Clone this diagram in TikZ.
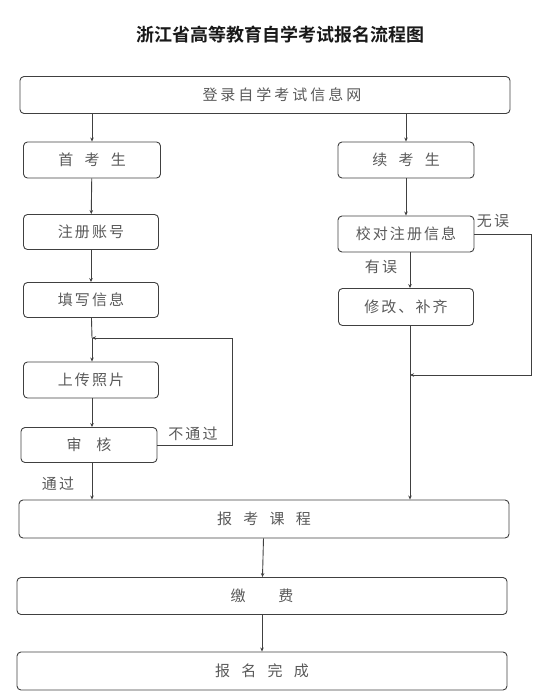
\documentclass[tikz,border=0pt]{standalone}
\usepackage{fontspec}
\setmainfont{Noto Sans CJK SC}[LetterSpace=14]
\newfontfamily\cjkb{Noto Sans CJK SC Bold}
\newfontfamily\cjkwide{Noto Sans CJK SC}[LetterSpace=20]
\usetikzlibrary{arrows.meta}
\newcommand{\gp}{\hspace{0.75em}}
\tikzset{
  box/.style={draw=black!75, line width=0.9pt, rounded corners=4pt, inner sep=0pt, text=black!65, font=\fontsize{15}{15}\selectfont},
  conn/.style={draw=black!75, line width=0.9pt, -{Stealth[length=4pt,width=3.5pt]}},
  plain/.style={draw=black!75, line width=0.9pt},
  lbl/.style={text=black!65, font=\fontsize{15}{15}\selectfont, inner sep=0pt}
}
\begin{document}
\begin{tikzpicture}[x=1pt,y=-1pt]
\useasboundingbox (0,0) rectangle (545,697);
\node[font=\fontsize{18}{18}\selectfont\cjkb, text=black!90] (title) at (280,35) {浙江省高等教育自学考试报名流程图};
% boxes
\node[box, minimum width=490pt, minimum height=37pt] (login) at (265,95) {\hspace{34pt}{\cjkwide 登录自学考试信息网}};
\node[box, minimum width=137pt, minimum height=36pt] (first) at (92,160) {首\gp 考\gp 生};
\node[box, minimum width=136pt, minimum height=36pt] (cont) at (406,160) {续\gp 考\gp 生};
\node[box, minimum width=135pt, minimum height=35pt] (reg) at (91,232) {注册账号};
\node[box, minimum width=136pt, minimum height=36pt] (check) at (406,234) {校对注册信息};
\node[box, minimum width=135pt, minimum height=35pt] (fill) at (91,300) {填写信息};
\node[box, minimum width=135pt, minimum height=37pt] (fix) at (406,307) {修改、补齐};
\node[box, minimum width=135pt, minimum height=36pt] (photo) at (91,380) {上传照片};
\node[box, minimum width=136pt, minimum height=35pt] (audit) at (89,445) {审\hspace{1em}核};
\node[box, minimum width=490pt, minimum height=38pt] (course) at (264,519) {报\gp 考\gp 课\gp 程};
\node[box, minimum width=490pt, minimum height=37pt] (fee) at (262,596) {缴\hspace{2.2em}费};
\node[box, minimum width=490pt, minimum height=38pt] (done) at (262,671) {报\gp 名\gp 完\gp 成};
% coordinates
\coordinate (j1) at (92,338);
\coordinate (j2) at (410,375);
% left column
\draw[conn] (login.south -| first) -- (first);
\draw[conn] (first) -- (reg);
\draw[conn] (reg) -- (fill);
\draw[plain] (fill) -- (j1);
\draw[conn] (j1) -- (photo.north -| j1);
\draw[conn] (photo.south -| j1) -- (audit.north -| j1);
\draw[conn] (audit.east) -- ++(75,0) |- (j1);
\draw[conn] (audit.south -| j1) -- (course.north -| j1);
% right column
\draw[conn] (login.south -| cont) -- (cont);
\draw[conn] (cont) -- (check);
\draw[conn] (check.south -| j2) -- (fix.north -| j2);
\draw[plain] (fix.south -| j2) -- (j2);
\draw[conn] (check.east) -- ++(57,0) |- (j2);
\draw[conn] (j2) -- (course.north -| j2);
\draw[conn] (course) -- (fee);
\draw[conn] (fee) -- (done);
% labels
\node[lbl] (nomis) at (493,221) {无误};
\node[lbl] (mis) at (381,267) {有误};
\node[lbl] (fail) at (193,434) {不通过};
\node[lbl] (pass) at (58,484) {通过};
\end{tikzpicture}
\end{document}
